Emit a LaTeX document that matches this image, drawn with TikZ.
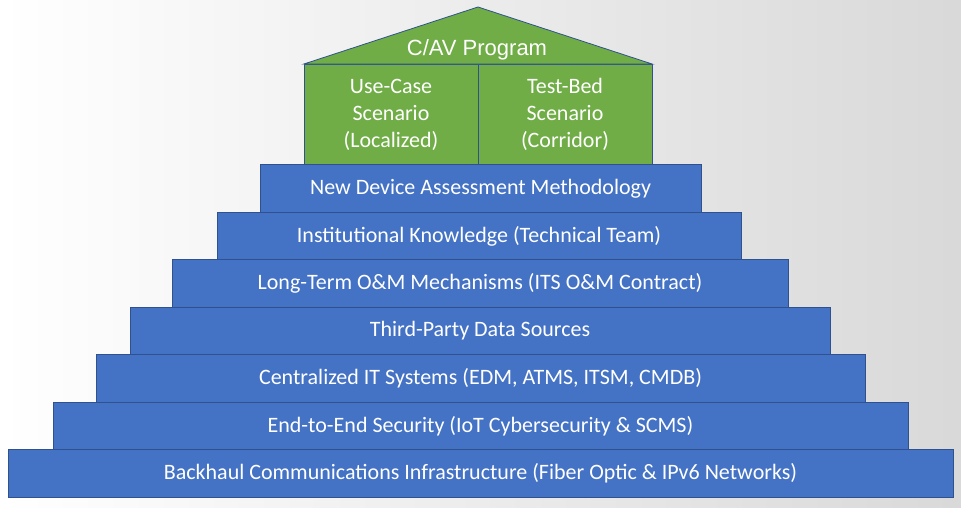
\documentclass[tikz,border=0pt]{standalone}
\usepackage{fontspec}
\setmainfont{Carlito}
\newfontfamily\arialfont{Liberation Sans}
\definecolor{barblue}{HTML}{4472C4}
\definecolor{barline}{HTML}{2F528F}
\definecolor{housegreen}{HTML}{70AD47}
\begin{document}
\begin{tikzpicture}[x=1pt,y=-1pt,
	layer/.style={rectangle,fill=barblue,draw=barline,line width=0.8pt,minimum height=47.5pt,inner sep=0pt,text=white,font=\fontsize{22}{26}\selectfont},
	room/.style={rectangle,fill=housegreen,draw=barline,line width=0.8pt,minimum width=174pt,minimum height=100pt,inner sep=0pt,text=white,align=center,font=\fontsize{22}{27}\selectfont}]
			% background
			\shade[left color=white,right color=black!15] (0,0) rectangle (961,508);
			\useasboundingbox (0,0) rectangle (961,508);
			% pyramid layers
			\node[layer,minimum width=441pt](l1) at (480.5,188.5){New Device Assessment Methodology};
			\node[layer,minimum width=524pt](l2) at (479,236){Institutional Knowledge (Technical Team)};
			\node[layer,minimum width=616pt](l3) at (480,283.5){Long-Term O\&M Mechanisms (ITS O\&M Contract)};
			\node[layer,minimum width=700pt](l4) at (480,331){Third-Party Data Sources};
			\node[layer,minimum width=769pt](l5) at (480.5,378.5){Centralized IT Systems (EDM, ATMS, ITSM, CMDB)};
			\node[layer,minimum width=855pt](l6) at (480.5,426){End-to-End Security (IoT Cybersecurity \& SCMS)};
			\node[layer,minimum width=945pt](l7) at (480.5,473.5){Backhaul Communications Infrastructure (Fiber Optic \& IPv6 Networks)};
			% house
			\node[room](use) at (391,114.5){Use-Case\\Scenario\\(Localized)};
			\node[room](test) at (565,114.5){Test-Bed\\Scenario\\(Corridor)};
			\coordinate (peak) at (478,7);
			\filldraw[fill=housegreen,draw=barline,line width=0.8pt] (use.north west)--(peak)--(test.north east)--cycle;
			\node[text=white,font=\arialfont\fontsize{22}{26}\selectfont](prog) at (477,50){C/AV Program};
		\end{tikzpicture}
\end{document}
